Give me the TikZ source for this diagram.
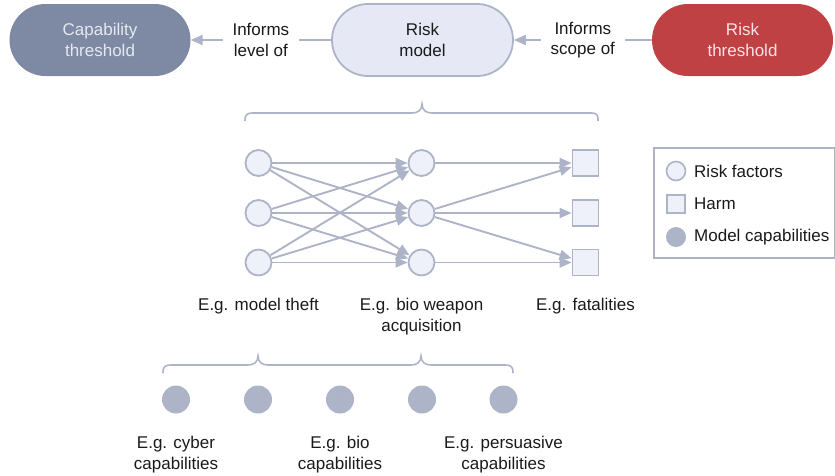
\documentclass[tikz,border=0pt]{standalone}
\usepackage{fontspec}
\setmainfont{Liberation Sans}
\usetikzlibrary{arrows.meta}
\definecolor{edgec}{HTML}{AEB4C8}
\definecolor{lightf}{HTML}{EEF0FA}
\definecolor{rmf}{HTML}{E6E9F5}
\definecolor{capf}{HTML}{7E89A4}
\definecolor{capt}{HTML}{E4E8F0}
\definecolor{riskf}{HTML}{C04143}
\definecolor{riskt}{HTML}{F7E4E4}
\definecolor{txt}{HTML}{1A1A1A}
\tikzset{
  pill/.style={rounded corners=36pt, minimum width=181pt, minimum height=72pt, align=center, inner sep=0pt},
  lab/.style={align=center, text=txt, font=\fontsize{17}{20.5}\selectfont},
  rf/.style={circle, draw=edgec, fill=lightf, line width=1.8pt, minimum size=26pt, inner sep=0pt},
  hm/.style={rectangle, draw=edgec, fill=lightf, line width=1.8pt, minimum size=26pt, inner sep=0pt},
  mc/.style={circle, fill=edgec, minimum size=28pt, inner sep=0pt},
  conn/.style={draw=edgec, line width=1.9pt, -{Triangle[length=12pt,width=10pt]}},
  brc/.style={draw=edgec, line width=1.6pt}
}
\begin{document}
\begin{tikzpicture}[x=1pt,y=-1pt]
\useasboundingbox (0,0) rectangle (835,475);
% top row
\node[pill, fill=capf, text=capt, font=\fontsize{17}{20.5}\selectfont] (cap) at (100,40) {Capability\\threshold};
\node[pill, fill=rmf, draw=edgec, line width=1.8pt, text=txt, font=\fontsize{17}{20.5}\selectfont] (rm) at (422.5,40) {Risk\\model};
\node[pill, fill=riskf, text=riskt, font=\fontsize{17}{20.5}\selectfont] (rt) at (742.5,40) {Risk\\threshold};
\draw[conn] (rm.west) -- node[lab, fill=white, inner xsep=10pt, inner ysep=4pt] {Informs\\level of} (cap.east);
\draw[conn] (rt.west) -- node[lab, fill=white, inner xsep=10pt, inner ysep=4pt] {Informs\\scope of} (rm.east);
% top brace
\draw[brc] (245,121) .. controls (245,114) and (247,113) .. (254,113) -- (412,113)
  .. controls (418,113) and (422,110) .. (422,104)
  .. controls (422,110) and (426,113) .. (432,113) -- (590,113)
  .. controls (597,113) and (598,114) .. (598,121);
% network
\node[rf] (a1) at (258.5,163) {};
\node[rf] (a2) at (258.5,213) {};
\node[rf] (a3) at (258.5,262.5) {};
\node[rf] (b1) at (421.5,163) {};
\node[rf] (b2) at (421.5,213) {};
\node[rf] (b3) at (421.5,262.5) {};
\node[hm] (c1) at (585.5,163) {};
\node[hm] (c2) at (585.5,213) {};
\node[hm] (c3) at (585.5,262.5) {};
\foreach \i in {1,2,3}{\foreach \j in {1,2,3}{\draw[conn] (a\i) -- (b\j);}}
\draw[conn] (b1) -- (c1);
\draw[conn] (b2) -- (c1);
\draw[conn] (b2) -- (c2);
\draw[conn] (b2) -- (c3);
\draw[conn] (b3) -- (c3);
\node[lab, anchor=north] (l1) at (258.5,295) {E.g. model theft};
\node[lab, anchor=north] (l2) at (421.5,295) {E.g. bio weapon\\acquisition};
\node[lab, anchor=north] (l3) at (585.5,295) {E.g. fatalities};
% legend
\node[draw=edgec, line width=1.6pt, fill=white, minimum width=181pt, minimum height=110pt, anchor=north west] (leg) at (653,147) {};
\node[circle, draw=edgec, fill=lightf, line width=1.6pt, minimum size=19pt, inner sep=0pt] (k1) at (676,171) {};
\node[lab, anchor=west, inner sep=0pt] (t1) at (694,171) {Risk factors};
\node[rectangle, draw=edgec, fill=lightf, line width=1.6pt, minimum size=18pt, inner sep=0pt] (k2) at (676,204) {};
\node[lab, anchor=west, inner sep=0pt] (t2) at (694,204) {Harm};
\node[circle, fill=edgec, minimum size=20pt, inner sep=0pt] (k3) at (676,237) {};
\node[lab, anchor=west, inner sep=0pt] (t3) at (694,237) {Model capabilities};
% bottom brace
\draw[brc] (163,373) .. controls (163,366) and (165,365) .. (172,365) -- (248,365)
  .. controls (254,365) and (258,362) .. (258,356)
  .. controls (258,362) and (262,365) .. (268,365) -- (411,365)
  .. controls (417,365) and (421,362) .. (421,356)
  .. controls (421,362) and (425,365) .. (431,365) -- (504,365)
  .. controls (511,365) and (513,366) .. (513,373);
% capabilities
\node[mc] (m1) at (176,399.5) {};
\node[mc] (m2) at (258,399.5) {};
\node[mc] (m3) at (340,399.5) {};
\node[mc] (m4) at (422,399.5) {};
\node[mc] (m5) at (503.5,399.5) {};
\node[lab, anchor=north] (n1) at (176,433) {E.g. cyber\\capabilities};
\node[lab, anchor=north] (n3) at (340,433) {E.g. bio\\capabilities};
\node[lab, anchor=north] (n5) at (503.5,433) {E.g. persuasive\\capabilities};
\end{tikzpicture}
\end{document}
